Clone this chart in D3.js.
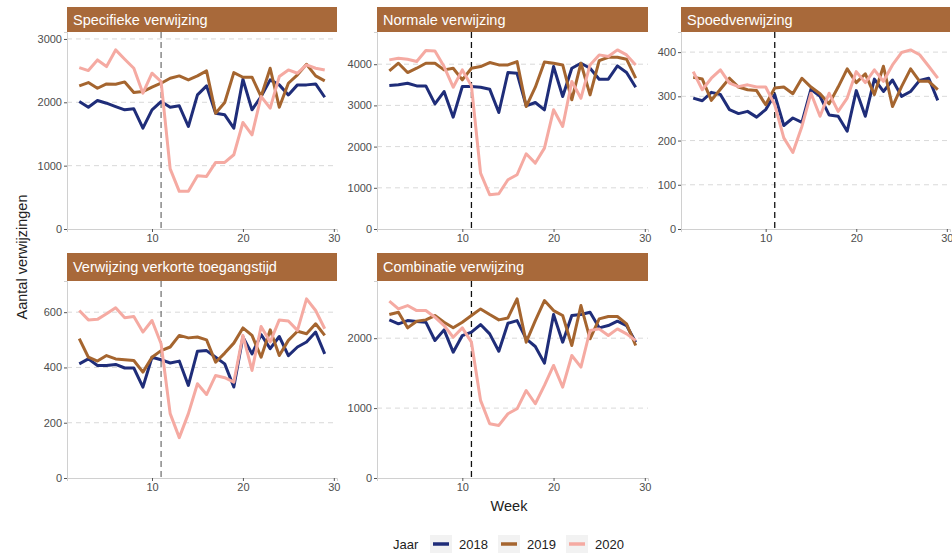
<!DOCTYPE html>
<html><head><meta charset="utf-8">
<script src="https://cdn.jsdelivr.net/npm/d3@7"></script>
<style>body{margin:0;background:#fff;} text{font-family:"Liberation Sans",Arial,sans-serif;}</style>
</head><body><svg id="c" width="952" height="558"></svg>
<script>
const weeks = d3.range(2, 30);
const years = ["2018", "2019", "2020"];
const panelTitles = ["Specifieke verwijzing", "Normale verwijzing", "Spoedverwijzing", "Verwijzing verkorte toegangstijd", "Combinatie verwijzing"];
const xTicks = [10, 20, 30];
const yTicks = [[0,1000,2000,3000],[0,1000,2000,3000,4000],[0,100,200,300,400],[0,200,400,600],[0,1000,2000]];
const lockdownWeek = 11;

const specifiek2018 = [2012,1923,2028,1986,1933,1881,1897,1592,1881,2012,1923,1944,1618,2117,2259,1828,1802,1592,2364,1881,2091,2354,2275,2117,2275,2275,2290,2080];
const specifiek2019 = [2259,2312,2222,2290,2285,2322,2154,2170,2238,2301,2380,2417,2354,2417,2496,1828,1996,2469,2396,2396,2091,2538,1923,2301,2433,2601,2417,2338];
const specifiek2020 = [2548,2501,2669,2564,2827,2680,2538,2144,2459,2327,950,594,594,841,830,1051,1051,1172,1681,1487,2091,1907,2406,2511,2459,2590,2538,2511];

const normaal2018 = [3483,3499,3539,3474,3474,3038,3337,2715,3458,3458,3442,3394,2828,3798,3781,2990,3070,2893,3943,3216,3903,4024,3903,3636,3636,3959,3798,3442];
const normaal2019 = [3838,4024,3798,3903,4024,4024,3862,3903,3620,3903,3943,4040,3983,3983,4064,2973,3442,4056,4024,3983,3135,4024,3256,4088,4169,4169,4121,3660];
const normaal2020 = [4105,4145,4121,4064,4331,4323,3943,3442,3862,3474,1357,832,856,1196,1317,1826,1600,1963,2893,2489,3579,3175,3983,4226,4185,4347,4226,3983];

const spoed2018 = [296,290,309,304,270,261,266,253,270,304,234,251,241,316,300,258,255,221,313,255,339,311,337,300,311,336,341,291];
const spoed2019 = [343,339,291,316,341,321,315,313,281,319,321,306,341,321,306,283,321,362,331,351,304,368,277,322,362,334,334,315];
const spoed2020 = [356,315,341,360,330,322,326,321,321,281,206,173,232,307,255,307,266,296,356,331,360,334,371,399,405,394,368,341];

const verkort2018 = [413,431,407,407,411,398,398,329,437,428,416,423,335,459,461,437,413,329,510,449,519,468,512,443,474,492,528,449];
const verkort2019 = [504,437,423,443,431,428,425,383,437,461,474,516,507,510,500,419,452,488,543,516,437,536,443,498,531,522,558,516];
const verkort2020 = [606,572,574,594,616,580,584,528,570,486,233,146,233,341,302,371,363,347,516,389,548,492,572,568,534,648,606,540];

const combi2018 = [2262,2205,2252,2238,2229,1967,2119,1800,2038,2086,2195,2062,1814,2214,2252,1991,1881,1643,2338,1943,2324,2338,2371,2148,2181,2243,2181,1943];
const combi2019 = [2338,2371,2148,2243,2262,2324,2229,2148,2229,2324,2419,2338,2262,2290,2562,1943,2252,2538,2395,2324,1895,2467,1991,2276,2310,2310,2205,1895];
const combi2020 = [2529,2419,2467,2395,2395,2300,2181,2014,2148,1943,1110,776,752,919,990,1252,1062,1324,1610,1300,1752,1586,2110,2133,2038,2133,2062,1967];

const seriesByPanel = [
  [specifiek2018, specifiek2019, specifiek2020],
  [normaal2018, normaal2019, normaal2020],
  [spoed2018, spoed2019, spoed2020],
  [verkort2018, verkort2019, verkort2020],
  [combi2018, combi2019, combi2020]
];

// layout / style
const colors = {"2018":"#1f2d79","2019":"#a5652f","2020":"#f5aaa2"};
const stripFill = "#a8693a";
const panels = [
  {x0:67, x1:337, y0:32, y1:229, sy:7},
  {x0:377, x1:648, y0:32, y1:229, sy:7},
  {x0:681, x1:950, y0:32, y1:229, sy:7},
  {x0:67, x1:337, y0:281, y1:478, sy:253},
  {x0:377, x1:648, y0:281, y1:478, sy:253}
];
const vlineColors = ["#777","#111","#111","#777","#111"];

const svg = d3.select("#c");

panels.forEach((p, i) => {
  const x = d3.scaleLinear().domain([0.65, 30.35]).range([p.x0, p.x1]);
  const maxV = d3.max(seriesByPanel[i], s => d3.max(s));
  const y = d3.scaleLinear().domain([0, maxV * 1.1]).range([p.y1, p.y0]);
  const g = svg.append("g");

  // strip
  g.append("rect").attr("x", p.x0).attr("y", p.sy).attr("width", p.x1 - p.x0).attr("height", p.y0 - p.sy).attr("fill", stripFill);
  g.append("text").attr("x", p.x0 + 6).attr("y", (p.sy + p.y0) / 2 + 5).attr("fill", "#fff").attr("font-size", 14.5).text(panelTitles[i]);

  // gridlines
  g.selectAll(".grid").data(yTicks[i].filter(t => t > 0)).enter().append("line")
    .attr("x1", p.x0).attr("x2", p.x1).attr("y1", d => y(d)).attr("y2", d => y(d))
    .attr("stroke", "#cfcfcf").attr("stroke-width", 0.8).attr("stroke-dasharray", "5,4");

  // axes
  const ya = g.append("g").attr("transform", `translate(${p.x0},0)`)
    .call(d3.axisLeft(y).tickValues(yTicks[i]).tickSize(3).tickPadding(2).tickFormat(d3.format("d")));
  const xa = g.append("g").attr("transform", `translate(0,${p.y1})`)
    .call(d3.axisBottom(x).tickValues(xTicks).tickSize(3).tickPadding(2));
  [ya, xa].forEach(a => {
    a.select(".domain").attr("stroke", "#d0d0d0").attr("stroke-width", 1);
    a.selectAll(".tick line").attr("stroke", "#555");
    a.selectAll(".tick text").attr("fill", "#4d4d4d").attr("font-size", 11).style("font-family", "Liberation Sans, Arial, sans-serif");
  });

  // vertical dashed lockdown line
  g.append("line").attr("x1", x(lockdownWeek)).attr("x2", x(lockdownWeek)).attr("y1", p.y0).attr("y2", p.y1)
    .attr("stroke", vlineColors[i]).attr("stroke-width", 1.3).attr("stroke-dasharray", "6,4");

  // lines
  const line = d3.line().x((d, k) => x(weeks[k])).y(d => y(d));
  seriesByPanel[i].forEach((s, j) => {
    g.append("path").datum(s).attr("d", line).attr("fill", "none")
      .attr("stroke", colors[years[j]]).attr("stroke-width", 3).attr("stroke-linejoin", "round");
  });
});

// axis titles
svg.append("text").attr("transform", "translate(27,257) rotate(-90)").attr("text-anchor", "middle")
  .attr("font-size", 14.5).attr("fill", "#222").text("Aantal verwijzingen");
svg.append("text").attr("x", 509).attr("y", 511).attr("text-anchor", "middle")
  .attr("font-size", 14.5).attr("fill", "#222").text("Week");

// legend
const lg = svg.append("g");
lg.append("text").attr("x", 393).attr("y", 549).attr("font-size", 13).attr("fill", "#222").text("Jaar");
const legX = [430, 498, 566];
years.forEach((yr, j) => {
  lg.append("rect").attr("x", legX[j]).attr("y", 535).attr("width", 22).attr("height", 18).attr("fill", "#f2f2f2");
  lg.append("line").attr("x1", legX[j] + 3).attr("x2", legX[j] + 19).attr("y1", 544).attr("y2", 544)
    .attr("stroke", colors[yr]).attr("stroke-width", 3.5);
  lg.append("text").attr("x", legX[j] + 29).attr("y", 549).attr("font-size", 13).attr("fill", "#222").text(yr);
});
</script></body></html>
